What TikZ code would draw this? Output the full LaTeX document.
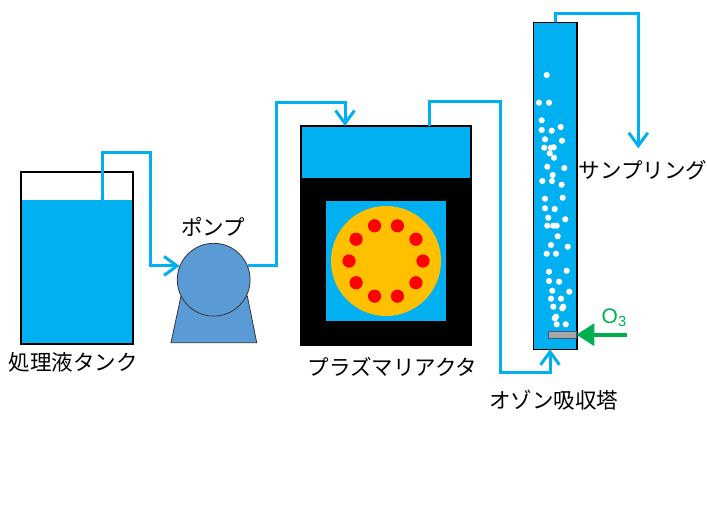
\documentclass[tikz,border=0pt]{standalone}
\usepackage{fontspec}
\setmainfont{Noto Sans CJK JP}
\newfontfamily\latinsans{Liberation Sans}
\usetikzlibrary{arrows.meta,calc}

\definecolor{water}{RGB}{0,176,240}
\definecolor{pumpblue}{RGB}{91,155,213}
\definecolor{ringorange}{RGB}{255,192,0}
\definecolor{ozonegreen}{RGB}{0,176,80}
\definecolor{diffgray}{RGB}{166,166,166}
\definecolor{diffedge}{RGB}{68,84,130}

\tikzset{
  pipe/.style={draw=water, line width=3pt, line join=miter},
  barb/.style={-{Straight Barb[length=13pt,width=19pt,line width=3pt]}},
  vessel/.style={draw=black, line width=1.6pt, inner sep=0pt, outer sep=0pt},
  label/.style={font=\fontsize{21.5}{25}\selectfont, inner sep=0pt, anchor=center},
  bubble/.style={fill=white, draw=none},
  electrode/.style={fill=red, draw=none},
}

\begin{document}
\begin{tikzpicture}[x=1pt, y=-1pt]
\useasboundingbox (0,0) rectangle (707,525);

% --- treatment liquid tank ---
\fill[water] (20.7,200) rectangle (133,344);
\node[vessel, minimum width=112.3pt, minimum height=172.3pt] (tank) at (76.85,257.85) {};
\node[label] (tanklabel) at (73.5,362) {処理液タンク};

% --- pump ---
\filldraw[fill=pumpblue, draw=black!80, line width=0.8pt]
  (181,296) -- (247.3,296) -- (256.7,342.7) -- (171,342.7) -- cycle;
\node[circle, fill=pumpblue, draw=black!80, line width=0.8pt, minimum size=72.8pt, inner sep=0pt] (pump) at (213.7,279.7) {};
\node[label] (pumplabel) at (213,227) {ポンプ};

% --- plasma reactor ---
\fill[water] (301,126) rectangle (471,178.3);
\fill[black] (301,178.3) rectangle (471,345);
\fill[water] (326,201) rectangle (446,320.7);
\fill[ringorange] (386,261) circle[radius=55];
\foreach \a in {0,36,...,324}
  \fill[electrode] ($(386,261)+(\a:37 and -37)$) circle[radius=6.6];
\node[vessel, minimum width=170pt, minimum height=219pt] (reactor) at (386,235.5) {};
\node[label] (reactorlabel) at (392.5,367) {プラズマリアクタ};

% --- ozone absorption column ---
\node[vessel, fill=water, minimum width=43.4pt, minimum height=327pt] (column) at (555,185.8) {};
\foreach \p in {
  (546.7,75),(539,102.7),(549,102.7),(541.7,120.3),(541.7,130),(551.7,130.7),(560.7,127),
  (545,139.3),(562,140.7),(544.3,147.7),(551,147.7),(553.7,147.3),(549.7,153.3),(554,157.7),
  (547.3,166.7),(564.3,168),(552.7,175),(542.3,181),(552,181),(561.7,184.7),
  (545,198.7),(562.7,197.7),(545,208.3),(554.7,209),(548.3,217.7),(565.3,219.3),
  (547.3,225.7),(553.3,225.7),(556.7,225.7),(557.7,236.3),(551,245),(567.7,246.7),
  (546.7,253.7),(556,253.7),(549,271.7),(566.7,270.7),(549,281),(559,281.7),
  (552.3,290.7),(569.3,291.7),(551,298.7),(561,298.7),(553.3,306.7),(562.3,308.3),
  (563.3,306.7),(556,316.7),(554.7,318.3),(556.7,324.3),(565.7,324.3)}
  \fill[bubble] \p circle[radius=3.1];
\node[fill=diffgray, draw=diffedge, line width=0.8pt, minimum width=27.7pt, minimum height=7.3pt, inner sep=0pt] (diffuser) at (562.2,334.7) {};
\node[label, anchor=west] (columnlabel) at (489,400) {オゾン吸収塔};

% --- ozone supply ---
\coordinate (ozonesrc) at (626.7,334.7);
\draw[draw=ozonegreen, line width=4pt, -{Triangle[length=18pt,width=22pt]}] (ozonesrc) -- (diffuser.east);
\node[text=ozonegreen, font=\latinsans\fontsize{21}{24}\selectfont, inner sep=0pt, anchor=base west] (ozonelabel) at (601.5,323) {O\textsubscript{3}};

% --- piping ---
\coordinate (tankout) at (102.7,200);
\draw[pipe, barb] (tankout) |- (150.7,152) |- (pump.158);

\coordinate (reactorin) at (345,126);
\draw[pipe, barb] (pump.22) -| (276.7,102.3) -| (reactorin);

\coordinate (reactorout) at (429.3,126);
\coordinate (columnin) at (550,349.3);
\draw[pipe, barb] (reactorout) |- (500.7,101) |- (550,372.7) -- (columnin);

\coordinate (columnout) at (555,22.3);
\coordinate (sample) at (638.3,148.3);
\draw[pipe, barb] (columnout) |- (638.3,13.3) -- (sample);
\node[label] (samplelabel) at (643,170) {サンプリング};

\end{tikzpicture}
\end{document}
